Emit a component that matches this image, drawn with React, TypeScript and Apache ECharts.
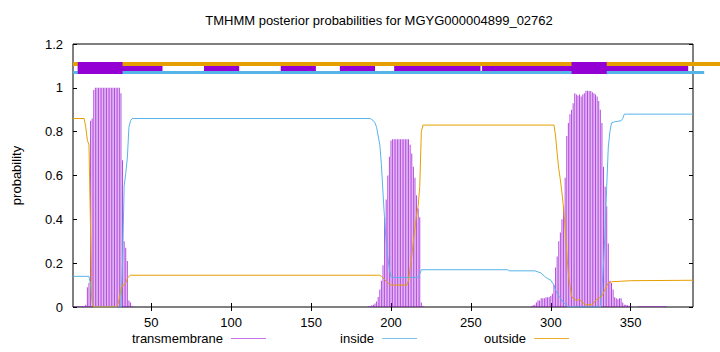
import React, { useEffect, useRef } from "react";
import * as echarts from "echarts";

const chartTitle = "TMHMM posterior probabilities for MGYG000004899_02762";
const seqMin = 1;
const seqMax = 389;
const xTickValues = [50, 100, 150, 200, 250, 300, 350];
const yTickValues = [0, 0.2, 0.4, 0.6, 0.8, 1, 1.2];

// posterior probability per residue [position, probability]
const transmembrane: [number, number][] = [
  [1, 0.002], [2, 0.002], [3, 0.002], [4, 0.003], [5, 0.003], [6, 0.004], [7, 0.004], [8, 0.005], [9, 0.01],
  [10, 0.09], [11, 0.11], [12, 0.85], [13, 0.86], [14, 0.99], [15, 1], [16, 1], [17, 1], [18, 1], [19, 1],
  [20, 1], [21, 1], [22, 1], [23, 1], [24, 1], [25, 1], [26, 1], [27, 1], [28, 1], [29, 1], [30, 1],
  [31, 0.975], [32, 0.67], [33, 0.3], [34, 0.27], [35, 0.21], [36, 0.03], [37, 0.02], [38, 0.005],
  [186, 0.003], [187, 0.005], [188, 0.008], [189, 0.01], [190, 0.016], [191, 0.025], [192, 0.046], [193, 0.08],
  [194, 0.12], [195, 0.19], [196, 0.41], [197, 0.49], [198, 0.6], [199, 0.685], [200, 0.76], [201, 0.765],
  [202, 0.765], [203, 0.765], [204, 0.765], [205, 0.765], [206, 0.765], [207, 0.765], [208, 0.765], [209, 0.765],
  [210, 0.765], [211, 0.765], [212, 0.74], [213, 0.7], [214, 0.64], [215, 0.59], [216, 0.51], [217, 0.45],
  [218, 0.41], [219, 0.02], [220, 0.005],
  [288, 0.005], [289, 0.008], [290, 0.01], [291, 0.02], [292, 0.03], [293, 0.03], [294, 0.04], [295, 0.04],
  [296, 0.04], [297, 0.045], [298, 0.045], [299, 0.045], [300, 0.05], [301, 0.06], [302, 0.1], [303, 0.18],
  [304, 0.23], [305, 0.3], [306, 0.34], [307, 0.4], [308, 0.46], [309, 0.59], [310, 0.78], [311, 0.84],
  [312, 0.88], [313, 0.9], [314, 0.93], [315, 0.975], [316, 0.97], [317, 0.965], [318, 0.97], [319, 0.96],
  [320, 0.97], [321, 0.975], [322, 0.987], [323, 0.987], [324, 0.985], [325, 0.985], [326, 0.98], [327, 0.975],
  [328, 0.97], [329, 0.96], [330, 0.94], [331, 0.9], [332, 0.84], [333, 0.64], [334, 0.55], [335, 0.46],
  [336, 0.29], [337, 0.12], [338, 0.11], [339, 0.08], [340, 0.045], [341, 0.04], [342, 0.035], [343, 0.04],
  [344, 0.04], [345, 0.02], [346, 0.01], [347, 0.01], [348, 0.008], [349, 0.006], [350, 0.004],
  [355, 0.004], [356, 0.004], [357, 0.004], [358, 0.004], [359, 0.004], [360, 0.004], [361, 0.004],
  [362, 0.004], [363, 0.004], [364, 0.004], [365, 0.004], [366, 0.004], [367, 0.004], [368, 0.004],
  [369, 0.004], [370, 0.004], [371, 0.004], [372, 0.004],
];

const inside: [number, number][] = [
  [1, 0.14], [11, 0.14], [12, 0.1], [13, 0.03], [14, 0], [31, 0], [32, 0.2], [33, 0.55], [34, 0.61],
  [35, 0.68], [36, 0.82], [37, 0.85], [38, 0.86], [187, 0.86], [188, 0.855], [189, 0.85], [190, 0.84],
  [191, 0.82], [192, 0.78], [193, 0.74], [194, 0.65], [195, 0.52], [196, 0.4], [197, 0.3], [198, 0.23],
  [199, 0.17], [200, 0.14], [201, 0.135], [217, 0.135], [218, 0.15], [219, 0.17], [273, 0.17], [274, 0.165],
  [290, 0.165], [292, 0.16], [294, 0.155], [296, 0.14], [298, 0.13], [300, 0.122], [302, 0.1], [303, 0.076],
  [305, 0.05], [306, 0.04], [308, 0.02], [310, 0.008], [311, 0], [331, 0], [332, 0.08], [333, 0.2],
  [334, 0.35], [335, 0.55], [336, 0.73], [337, 0.8], [338, 0.84], [340, 0.845], [344, 0.85], [345, 0.86],
  [346, 0.88], [389, 0.88],
];

const outside: [number, number][] = [
  [1, 0.86], [8, 0.86], [9, 0.82], [10, 0.76], [11, 0.74], [12, 0.35], [13, 0.02], [14, 0], [28, 0],
  [29, 0.01], [30, 0.04], [31, 0.08], [32, 0.1], [33, 0.1], [34, 0.11], [35, 0.13], [36, 0.14], [37, 0.145],
  [193, 0.145], [194, 0.14], [196, 0.125], [198, 0.11], [200, 0.1], [210, 0.1], [211, 0.12], [212, 0.18],
  [213, 0.23], [214, 0.3], [215, 0.36], [216, 0.42], [217, 0.46], [218, 0.55], [219, 0.8], [220, 0.83],
  [302, 0.83], [303, 0.78], [304, 0.7], [305, 0.63], [306, 0.58], [307, 0.52], [308, 0.45], [309, 0.36],
  [310, 0.25], [311, 0.15], [312, 0.1], [313, 0.05], [314, 0.04], [316, 0.03], [318, 0.035], [320, 0.02],
  [322, 0.01], [326, 0.01], [328, 0.03], [330, 0.04], [332, 0.05], [334, 0.08], [336, 0.11], [338, 0.115],
  [350, 0.12], [389, 0.122],
];

// predicted topology strip above the plot: [start, end] ranges
const outsideStrip: [number, number][] = [[1, 407]];
const insideStrip: [number, number][] = [[1, 396]];
const tmStripThin: [number, number][] = [[4, 57], [83, 105], [131, 153], [168, 190], [202, 256], [257, 386]];
const tmStripThick: [number, number][] = [[4, 32], [313, 335]];
const outsideLevel = 1.11;
const tmLevel = 1.09;
const insideLevel = 1.071;

const FONT = '"Liberation Sans", Arial, Helvetica, sans-serif';
const PURPLE = "#9400d3";
const BLUE = "#56b4e9";
const ORANGE = "#e69f00";

function strip(ranges: [number, number][], level: number) {
  return ranges.map(([a, b]) => ({ coords: [[a, level], [b, level]] }));
}

export default function App() {
  const ref = useRef<HTMLDivElement>(null);
  useEffect(() => {
    if (!ref.current) return;
    const chart = echarts.init(ref.current, undefined, { renderer: "svg" });
    const xAxisBase = {
      type: "value" as const,
      min: seqMin,
      max: seqMax,
      axisLine: { show: false },
      splitLine: { show: false },
      axisTick: { inside: true, length: 4, customValues: xTickValues, lineStyle: { color: "#000" } },
    };
    const yAxisBase = {
      type: "value" as const,
      min: 0,
      max: 1.2,
      interval: 0.2,
      axisLine: { show: false },
      splitLine: { show: false },
      axisTick: { inside: true, length: 4, customValues: yTickValues, lineStyle: { color: "#000" } },
    };
    const legendBase = {
      top: 332,
      padding: 0,
      align: "right" as const,
      itemWidth: 35,
      itemHeight: 1,
      selectedMode: false,
      textStyle: { fontSize: 13, color: "#000", fontFamily: FONT, padding: [0, 3, 0, 0] },
    };
    chart.setOption({
      animation: false,
      backgroundColor: "#fff",
      grid: {
        left: 73,
        top: 44,
        width: 620,
        height: 263,
        show: true,
        borderColor: "#000",
        borderWidth: 1,
        outerBoundsMode: "none",
      },
      graphic: [
        {
          type: "text",
          x: 379,
          y: 20,
          style: {
            text: chartTitle,
            align: "center",
            verticalAlign: "middle",
            fontSize: 13,
            fontFamily: FONT,
            fill: "#000",
          },
        },
      ],
      legend: [
        { ...legendBase, right: 454, data: [{ name: "transmembrane", icon: "rect", itemStyle: { color: "#b040e0" } }] },
        { ...legendBase, right: 303, data: [{ name: "inside", icon: "rect", itemStyle: { color: "#7cc4ee" } }] },
        { ...legendBase, right: 151, data: [{ name: "outside", icon: "rect", itemStyle: { color: "#ebb030" } }] },
      ],
      xAxis: [
        {
          ...xAxisBase,
          position: "bottom",
          axisLabel: { customValues: xTickValues, margin: 9, fontSize: 13, color: "#000", fontFamily: FONT },
        },
        { ...xAxisBase, position: "top", axisLabel: { show: false } },
      ],
      yAxis: [
        {
          ...yAxisBase,
          position: "left",
          name: "probability",
          nameLocation: "middle",
          nameGap: 50,
          nameTextStyle: { fontSize: 13, color: "#000", fontFamily: FONT },
          axisLabel: { customValues: yTickValues, margin: 10, fontSize: 13, color: "#000", fontFamily: FONT },
        },
        { ...yAxisBase, position: "right", axisLabel: { show: false } },
      ],
      series: [
        {
          name: "transmembrane",
          type: "bar",
          data: transmembrane,
          barWidth: 1,
          itemStyle: { color: PURPLE, opacity: 0.72 },
          z: 2,
        },
        {
          name: "inside",
          type: "line",
          data: inside,
          showSymbol: false,
          symbol: "none",
          lineStyle: { color: BLUE, width: 1 },
          itemStyle: { color: BLUE },
          z: 3,
        },
        {
          name: "outside",
          type: "line",
          data: outside,
          showSymbol: false,
          symbol: "none",
          lineStyle: { color: ORANGE, width: 1 },
          itemStyle: { color: ORANGE },
          z: 3,
        },
        {
          type: "lines",
          coordinateSystem: "cartesian2d",
          clip: false,
          data: strip(outsideStrip, outsideLevel),
          lineStyle: { color: ORANGE, width: 4, opacity: 1 },
          z: 4,
        },
        {
          type: "lines",
          coordinateSystem: "cartesian2d",
          clip: false,
          data: strip(insideStrip, insideLevel),
          lineStyle: { color: BLUE, width: 3, opacity: 1 },
          z: 4,
        },
        {
          type: "lines",
          coordinateSystem: "cartesian2d",
          clip: false,
          data: strip(tmStripThin, tmLevel),
          lineStyle: { color: PURPLE, width: 5, opacity: 1 },
          z: 5,
        },
        {
          type: "lines",
          coordinateSystem: "cartesian2d",
          clip: false,
          data: strip(tmStripThick, tmLevel),
          lineStyle: { color: PURPLE, width: 12, opacity: 1 },
          z: 5,
        },
      ],
    });
    return () => chart.dispose();
  }, []);
  return (
    <div
      ref={ref}
      style={{ position: "absolute", left: 0, top: 0, width: 720, height: 352 }}
    />
  );
}
